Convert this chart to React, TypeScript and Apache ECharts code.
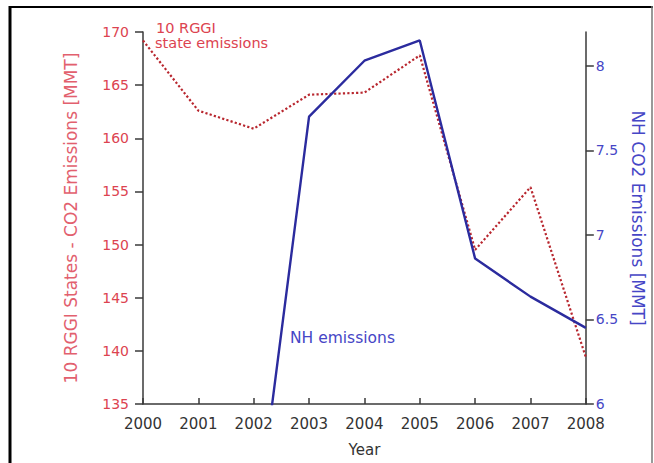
import React, { useEffect, useRef } from "react";
import * as echarts from "echarts";

const years = ["2000", "2001", "2002", "2003", "2004", "2005", "2006", "2007", "2008"];
const rggiEmissions = [169.2, 162.6, 160.9, 164.1, 164.3, 167.8, 149.5, 155.4, 139.4];
const nhEmissions = [null, null, 5.15, 7.7, 8.03, 8.15, 6.86, 6.635, 6.45];
const nhTicks = [6, 6.5, 7, 7.5, 8];

const FONT = "DejaVu Sans";
const RED_TEXT = "#dc4350";
const RED_TITLE = "#e2606e";
const RED_LINE = "#b8262e";
const BLUE_LINE = "#2b2b9e";
const BLUE_TEXT = "#4646c6";
const AXIS = "#3a3a3a";

export default function App() {
  const ref = useRef<HTMLDivElement>(null);
  useEffect(() => {
    if (!ref.current) return;
    const chart = echarts.init(ref.current, null, { renderer: "svg" });
    chart.setOption({
      animation: false,
      backgroundColor: "#ffffff",
      grid: { left: 143, right: 68, top: 32, bottom: 59 },
      xAxis: {
        type: "category",
        data: years,
        boundaryGap: false,
        name: "Year",
        nameLocation: "middle",
        nameGap: 38,
        nameTextStyle: { color: "#333", fontFamily: FONT, fontSize: 15 },
        axisLine: { lineStyle: { color: AXIS, width: 1.5 } },
        axisTick: { inside: true, length: 6, lineStyle: { color: AXIS, width: 1.5 } },
        axisLabel: { color: "#333", fontFamily: FONT, fontSize: 15, margin: 12 },
        splitLine: { show: false },
      },
      yAxis: [
        {
          type: "value",
          min: 135,
          max: 170,
          interval: 5,
          position: "left",
          name: "10 RGGI States - CO2 Emissions [MMT]",
          nameLocation: "middle",
          nameGap: 64,
          nameTextStyle: { color: RED_TITLE, fontFamily: FONT, fontSize: 17 },
          axisLine: { show: true, lineStyle: { color: AXIS, width: 1.5 } },
          axisTick: { show: true, length: 8, lineStyle: { color: AXIS, width: 1.5 } },
          axisLabel: { color: RED_TEXT, fontFamily: FONT, fontSize: 14, margin: 14 },
          splitLine: { show: false },
        },
        {
          type: "value",
          min: 6,
          max: 8.2,
          interval: 0.5,
          position: "right",
          name: "NH CO2 Emissions [MMT]",
          nameLocation: "middle",
          nameGap: 38,
          nameRotate: -90,
          nameTextStyle: { color: BLUE_TEXT, fontFamily: FONT, fontSize: 17 },
          axisLine: { show: true, lineStyle: { color: AXIS, width: 1.5 } },
          axisTick: { show: true, length: 8, customValues: nhTicks, lineStyle: { color: AXIS, width: 1.5 } },
          axisLabel: {
            color: BLUE_TEXT,
            fontFamily: FONT,
            fontSize: 14,
            margin: 10,
            customValues: nhTicks,
            formatter: (v: number) => String(v),
          },
          splitLine: { show: false },
        },
      ],
      series: [
        {
          name: "10 RGGI state emissions",
          type: "line",
          yAxisIndex: 0,
          data: rggiEmissions,
          symbol: "none",
          clip: true,
          lineStyle: { color: RED_LINE, width: 2.2, type: "dotted" },
        },
        {
          name: "NH emissions",
          type: "line",
          yAxisIndex: 1,
          data: nhEmissions,
          symbol: "none",
          clip: true,
          connectNulls: false,
          lineStyle: { color: BLUE_LINE, width: 2.4 },
        },
      ],
      graphic: [
        { type: "line", shape: { x1: 10, y1: 6, x2: 10, y2: 463 }, style: { stroke: "#000", lineWidth: 3 } },
        { type: "line", shape: { x1: 9, y1: 7, x2: 653, y2: 7 }, style: { stroke: "#000", lineWidth: 2 } },
        { type: "line", shape: { x1: 652, y1: 6, x2: 652, y2: 463 }, style: { stroke: "#777", lineWidth: 1.5 } },
        {
          type: "text",
          left: 156,
          top: 20,
          style: {
            text: "10 RGGI",
            fill: RED_TEXT,
            font: `14.5px '${FONT}'`,
          },
        },
        {
          type: "text",
          left: 155,
          top: 35,
          style: {
            text: "state emissions",
            fill: RED_TEXT,
            font: `14.5px '${FONT}'`,
          },
        },
        {
          type: "text",
          left: 290,
          top: 330,
          style: {
            text: "NH emissions",
            fill: BLUE_TEXT,
            font: `15.5px '${FONT}'`,
          },
        },
      ],
    });
    return () => chart.dispose();
  }, []);
  return <div ref={ref} style={{ position: "fixed", left: 0, top: 0, width: 654, height: 463 }} />;
}
